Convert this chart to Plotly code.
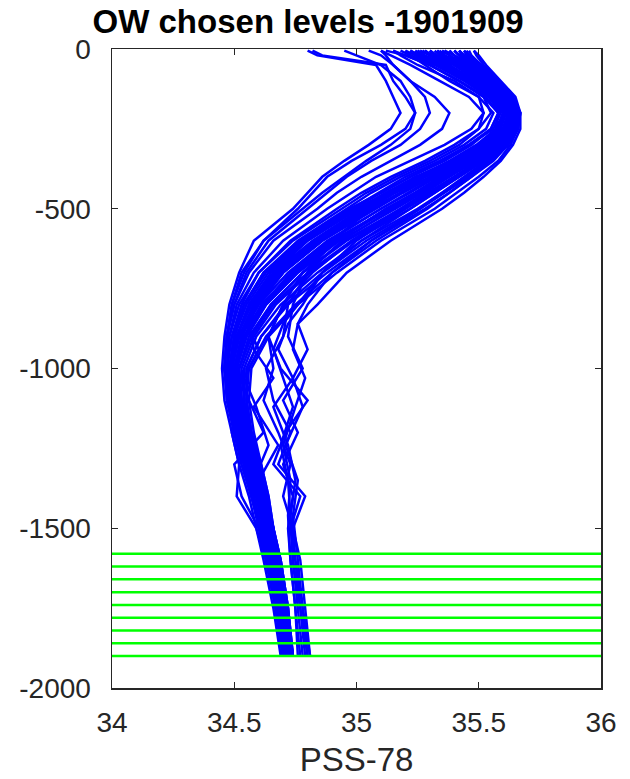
import plotly.graph_objects as go

# Pressure levels (dbar) of the profiles
pressure = [5, 20, 50, 100, 150, 200, 250, 300, 350, 400, 450, 500, 600, 700,
            800, 900, 1000, 1100, 1200, 1300, 1400, 1500, 1600, 1750, 1900]
pressure_alt = [5, 20, 50, 100, 150, 200, 250, 300, 350, 400, 450, 500, 600, 700,
                800, 860, 940, 1030, 1120, 1240, 1350, 1460, 1600, 1750, 1900]

# Salinity profiles (PSS-78), one list per profile
sal_a01 = [34.80, 34.84, 35.08, 35.12, 35.15, 35.18, 35.14, 35.05, 34.95, 34.86, 34.80, 34.74, 34.58, 34.52, 34.48, 34.46, 34.45, 34.46, 34.49, 34.52, 34.56, 34.59, 34.62, 34.66, 34.69]
sal_a02 = [34.82, 34.86, 35.12, 35.15, 35.20, 35.24, 35.22, 35.14, 35.04, 34.95, 34.86, 34.78, 34.62, 34.54, 34.49, 34.47, 34.46, 34.47, 34.50, 34.53, 34.57, 34.60, 34.63, 34.67, 34.70]
sal_a03 = [35.10, 35.12, 35.15, 35.22, 35.32, 35.38, 35.35, 35.26, 35.14, 35.02, 34.92, 34.84, 34.66, 34.56, 34.50, 34.47, 34.46, 34.48, 34.51, 34.54, 34.58, 34.61, 34.63, 34.67, 34.70]
sal_a04 = [35.20, 35.22, 35.28, 35.38, 35.50, 35.52, 35.47, 35.36, 35.22, 35.08, 34.98, 34.88, 34.70, 34.58, 34.51, 34.48, 34.47, 34.48, 34.51, 34.55, 34.58, 34.61, 34.64, 34.68, 34.71]
sal_a05 = [35.25, 35.26, 35.30, 35.42, 35.52, 35.55, 35.50, 35.40, 35.28, 35.14, 35.02, 34.92, 34.73, 34.60, 34.53, 34.49, 34.47, 34.49, 34.52, 34.55, 34.59, 34.62, 34.64, 34.68, 34.71]
sal_a06 = [35.15, 35.18, 35.25, 35.40, 35.50, 35.56, 35.53, 35.44, 35.32, 35.18, 35.06, 34.96, 34.76, 34.62, 34.54, 34.50, 34.48, 34.49, 34.52, 34.56, 34.59, 34.62, 34.65, 34.68, 34.71]
sal_a07 = [35.30, 35.32, 35.36, 35.45, 35.55, 35.58, 35.55, 35.47, 35.36, 35.22, 35.10, 34.99, 34.79, 34.64, 34.55, 34.50, 34.48, 34.50, 34.53, 34.56, 34.60, 34.63, 34.65, 34.69, 34.72]
sal_a08 = [35.28, 35.30, 35.38, 35.48, 35.56, 35.60, 35.57, 35.49, 35.38, 35.25, 35.13, 35.02, 34.82, 34.66, 34.56, 34.51, 34.49, 34.50, 34.53, 34.57, 34.60, 34.63, 34.66, 34.69, 34.72]
sal_a09 = [35.35, 35.36, 35.40, 35.50, 35.58, 35.60, 35.58, 35.51, 35.41, 35.28, 35.16, 35.05, 34.84, 34.68, 34.58, 34.52, 34.49, 34.51, 34.54, 34.57, 34.60, 34.63, 34.66, 34.69, 34.72]
sal_a10 = [35.22, 35.25, 35.35, 35.46, 35.56, 35.62, 35.60, 35.53, 35.43, 35.31, 35.19, 35.08, 34.86, 34.70, 34.59, 34.53, 34.50, 34.51, 34.54, 34.57, 34.61, 34.64, 34.66, 34.70, 34.72]
sal_a11 = [35.38, 35.40, 35.44, 35.52, 35.60, 35.62, 35.61, 35.55, 35.45, 35.33, 35.22, 35.10, 34.88, 34.72, 34.60, 34.53, 34.50, 34.52, 34.55, 34.58, 34.61, 34.64, 34.67, 34.70, 34.73]
sal_a12 = [35.32, 35.34, 35.42, 35.52, 35.60, 35.63, 35.62, 35.56, 35.47, 35.36, 35.25, 35.13, 34.90, 34.74, 34.62, 34.54, 34.51, 34.52, 34.55, 34.58, 34.61, 34.64, 34.67, 34.70, 34.73]
sal_a13 = [35.40, 35.42, 35.46, 35.54, 35.62, 35.64, 35.62, 35.57, 35.49, 35.38, 35.27, 35.16, 34.93, 34.76, 34.63, 34.55, 34.51, 34.53, 34.56, 34.59, 34.62, 34.65, 34.67, 34.70, 34.73]
sal_a14 = [35.26, 35.30, 35.40, 35.52, 35.60, 35.64, 35.63, 35.58, 35.50, 35.40, 35.30, 35.19, 34.96, 34.78, 34.65, 34.56, 34.52, 34.53, 34.56, 34.59, 34.62, 34.65, 34.68, 34.71, 34.73]
sal_a15 = [35.42, 35.44, 35.48, 35.56, 35.62, 35.65, 35.64, 35.59, 35.52, 35.42, 35.32, 35.22, 34.99, 34.81, 34.67, 34.58, 34.53, 34.54, 34.56, 34.60, 34.63, 34.65, 34.68, 34.71, 34.74]
sal_a16 = [35.45, 35.46, 35.50, 35.57, 35.63, 35.66, 35.65, 35.61, 35.54, 35.45, 35.35, 35.25, 35.02, 34.84, 34.69, 34.59, 34.54, 34.54, 34.57, 34.60, 34.63, 34.66, 34.68, 34.71, 34.74]
sal_a17 = [35.36, 35.40, 35.47, 35.56, 35.63, 35.66, 35.66, 35.62, 35.56, 35.47, 35.38, 35.28, 35.06, 34.88, 34.72, 34.61, 34.55, 34.55, 34.57, 34.60, 34.63, 34.66, 34.69, 34.72, 34.74]
sal_a18 = [35.48, 35.49, 35.52, 35.58, 35.64, 35.67, 35.66, 35.63, 35.58, 35.50, 35.41, 35.32, 35.10, 34.92, 34.76, 34.64, 34.57, 34.56, 34.58, 34.61, 34.64, 34.66, 34.69, 34.72, 34.74]
sal_a19 = [35.12, 35.20, 35.30, 35.42, 35.52, 35.58, 35.57, 35.50, 35.40, 35.28, 35.18, 35.07, 34.86, 34.70, 34.59, 34.52, 34.49, 34.50, 34.53, 34.56, 34.60, 34.63, 34.66, 34.69, 34.72]
sal_a20 = [35.18, 35.22, 35.32, 35.44, 35.54, 35.59, 35.56, 35.46, 35.34, 35.20, 35.09, 34.98, 34.78, 34.63, 34.54, 34.49, 34.47, 34.48, 34.51, 34.55, 34.59, 34.62, 34.65, 34.68, 34.71]
sal_c01 = [35.24, 35.27, 35.34, 35.46, 35.55, 35.60, 35.58, 35.50, 35.39, 35.26, 35.14, 35.03, 34.83, 34.68, 34.58, 34.53, 34.51, 34.56, 34.62, 34.50, 34.53, 34.60, 34.64, 34.68, 34.71]
sal_c02 = [35.34, 35.36, 35.42, 35.52, 35.60, 35.63, 35.61, 35.54, 35.44, 35.32, 35.21, 35.10, 34.89, 34.73, 34.62, 34.56, 34.58, 34.66, 34.58, 34.68, 34.60, 34.65, 34.66, 34.69, 34.72]
sal_n01 = [34.95, 35.00, 35.10, 35.18, 35.22, 35.24, 35.20, 35.10, 34.98, 34.88, 34.82, 34.76, 34.62, 34.53, 34.49, 34.47, 34.46, 34.47, 34.50, 34.53, 34.57, 34.61, 34.63, 34.67, 34.70]
sal_n02 = [35.05, 35.10, 35.15, 35.22, 35.28, 35.30, 35.26, 35.18, 35.06, 34.96, 34.88, 34.80, 34.64, 34.55, 34.50, 34.47, 34.46, 34.48, 34.50, 34.54, 34.57, 34.61, 34.64, 34.67, 34.70]
sal_n03 = [35.38, 35.40, 35.45, 35.53, 35.60, 35.63, 35.60, 35.52, 35.40, 35.26, 35.12, 35.00, 34.80, 34.66, 34.57, 34.51, 34.48, 34.49, 34.52, 34.56, 34.60, 34.63, 34.65, 34.69, 34.72]
sal_n04 = [35.30, 35.33, 35.40, 35.50, 35.59, 35.62, 35.60, 35.54, 35.45, 35.34, 35.24, 35.12, 34.92, 34.75, 34.62, 34.54, 34.50, 34.51, 34.54, 34.58, 34.61, 34.64, 34.67, 34.70, 34.73]
sal_n05 = [35.42, 35.43, 35.47, 35.55, 35.62, 35.65, 35.63, 35.57, 35.48, 35.37, 35.26, 35.14, 34.91, 34.74, 34.61, 34.54, 34.50, 34.52, 34.55, 34.58, 34.62, 34.65, 34.67, 34.70, 34.73]
sal_n06 = [35.20, 35.24, 35.33, 35.45, 35.55, 35.60, 35.58, 35.50, 35.40, 35.27, 35.15, 35.04, 34.83, 34.67, 34.57, 34.51, 34.48, 34.50, 34.53, 34.57, 34.60, 34.63, 34.66, 34.69, 34.72]
sal_n07 = [35.48, 35.50, 35.53, 35.59, 35.65, 35.67, 35.66, 35.62, 35.55, 35.46, 35.36, 35.26, 35.04, 34.86, 34.71, 34.61, 34.55, 34.55, 34.57, 34.61, 34.64, 34.66, 34.69, 34.72, 34.74]
sal_n08 = [35.15, 35.20, 35.30, 35.42, 35.53, 35.58, 35.55, 35.46, 35.35, 35.22, 35.10, 34.97, 34.77, 34.62, 34.54, 34.50, 34.48, 34.49, 34.52, 34.56, 34.60, 34.63, 34.65, 34.69, 34.71]
sal_n09 = [35.36, 35.38, 35.43, 35.52, 35.60, 35.64, 35.63, 35.58, 35.50, 35.41, 35.31, 35.20, 34.98, 34.80, 34.66, 34.57, 34.52, 34.53, 34.56, 34.59, 34.62, 34.65, 34.68, 34.71, 34.74]
sal_n10 = [35.28, 35.31, 35.38, 35.49, 35.58, 35.61, 35.58, 35.50, 35.39, 35.24, 35.12, 35.01, 34.80, 34.65, 34.56, 34.51, 34.49, 34.50, 34.53, 34.56, 34.60, 34.63, 34.66, 34.69, 34.72]
sal_n13 = [35.27, 35.30, 35.37, 35.48, 35.57, 35.61, 35.59, 35.51, 35.40, 35.27, 35.15, 35.04, 34.84, 34.70, 34.60, 34.55, 34.60, 34.54, 34.59, 34.64, 34.58, 34.62, 34.65, 34.68, 34.71]
sal_n14 = [35.10, 35.14, 35.22, 35.34, 35.46, 35.52, 35.50, 35.42, 35.30, 35.16, 35.04, 34.94, 34.74, 34.60, 34.52, 34.48, 34.47, 34.48, 34.51, 34.54, 34.58, 34.61, 34.64, 34.67, 34.70]
sal_n15 = [35.44, 35.46, 35.50, 35.57, 35.63, 35.66, 35.65, 35.61, 35.55, 35.47, 35.38, 35.29, 35.08, 34.90, 34.75, 34.63, 34.56, 34.55, 34.57, 34.60, 34.63, 34.66, 34.68, 34.71, 34.74]
sal_n16 = [35.33, 35.35, 35.41, 35.51, 35.59, 35.63, 35.61, 35.55, 35.46, 35.35, 35.24, 35.13, 34.92, 34.76, 34.63, 34.55, 34.51, 34.52, 34.55, 34.58, 34.62, 34.64, 34.67, 34.70, 34.73]
sal_n17 = [35.22, 35.26, 35.35, 35.47, 35.57, 35.61, 35.59, 35.52, 35.42, 35.30, 35.18, 35.06, 34.85, 34.69, 34.58, 34.52, 34.49, 34.51, 34.49, 34.52, 34.51, 34.59, 34.63, 34.67, 34.70]
sal_n18 = [35.40, 35.42, 35.47, 35.55, 35.62, 35.65, 35.64, 35.59, 35.51, 35.40, 35.29, 35.18, 34.95, 34.78, 34.65, 34.57, 34.52, 34.53, 34.56, 34.59, 34.62, 34.65, 34.68, 34.71, 34.73]
sal_b01 = [35.30, 35.32, 35.40, 35.50, 35.58, 35.62, 35.60, 35.52, 35.42, 35.30, 35.18, 35.06, 34.90, 34.80, 34.74, 34.72, 34.78, 34.70, 34.76, 34.70, 34.74, 34.72, 34.73, 34.75, 34.77]
sal_b02 = [35.44, 35.45, 35.50, 35.57, 35.64, 35.66, 35.64, 35.58, 35.50, 35.40, 35.30, 35.20, 35.00, 34.86, 34.78, 34.72, 34.68, 34.74, 34.66, 34.72, 34.75, 34.73, 34.74, 34.77, 34.79]
sal_b03 = [35.25, 35.28, 35.36, 35.48, 35.58, 35.63, 35.62, 35.56, 35.48, 35.38, 35.28, 35.18, 34.98, 34.82, 34.70, 34.64, 34.66, 34.62, 34.68, 34.73, 34.70, 34.74, 34.75, 34.78, 34.80]
sal_b04 = [35.40, 35.42, 35.46, 35.54, 35.62, 35.65, 35.64, 35.60, 35.53, 35.44, 35.35, 35.26, 35.06, 34.90, 34.80, 34.76, 34.80, 34.74, 34.78, 34.71, 34.76, 34.74, 34.76, 34.78, 34.81]
sal_b05 = [35.33, 35.36, 35.44, 35.53, 35.61, 35.65, 35.63, 35.57, 35.48, 35.37, 35.26, 35.15, 34.94, 34.80, 34.72, 34.70, 34.63, 34.66, 34.73, 34.68, 34.79, 34.74, 34.77, 34.79, 34.81]
sal_b06 = [35.46, 35.47, 35.51, 35.58, 35.64, 35.67, 35.67, 35.64, 35.59, 35.52, 35.44, 35.35, 35.14, 34.96, 34.84, 34.76, 34.74, 34.79, 34.75, 34.70, 34.73, 34.72, 34.73, 34.75, 34.76]
sal_b07 = [35.35, 35.38, 35.45, 35.54, 35.61, 35.64, 35.62, 35.55, 35.46, 35.35, 35.24, 35.12, 34.92, 34.78, 34.70, 34.64, 34.69, 34.80, 34.71, 34.66, 34.77, 34.73, 34.75, 34.77, 34.80]
sal_b08 = [35.42, 35.44, 35.49, 35.56, 35.63, 35.66, 35.65, 35.60, 35.52, 35.42, 35.32, 35.22, 35.02, 34.86, 34.76, 34.70, 34.66, 34.70, 34.74, 34.69, 34.72, 34.73, 34.74, 34.76, 34.78]

# (pressure levels, salinity) for every profile
profiles = [(pressure, sal_a01), (pressure, sal_a02), (pressure, sal_a03),
            (pressure, sal_a04), (pressure, sal_a05), (pressure, sal_a06),
            (pressure, sal_a07), (pressure, sal_a08), (pressure, sal_a09),
            (pressure, sal_a10), (pressure, sal_a11), (pressure, sal_a12),
            (pressure, sal_a13), (pressure, sal_a14), (pressure, sal_a15),
            (pressure, sal_a16), (pressure, sal_a17), (pressure, sal_a18),
            (pressure, sal_a19), (pressure, sal_a20), (pressure, sal_c01),
            (pressure_alt, sal_c02), (pressure, sal_n01), (pressure, sal_n02),
            (pressure, sal_n03), (pressure, sal_n04), (pressure, sal_n05),
            (pressure, sal_n06), (pressure, sal_n07), (pressure, sal_n08),
            (pressure, sal_n09), (pressure, sal_n10), (pressure_alt, sal_n13),
            (pressure, sal_n14), (pressure, sal_n15), (pressure, sal_n16),
            (pressure, sal_n17), (pressure, sal_n18), (pressure, sal_b01),
            (pressure_alt, sal_b02), (pressure, sal_b03), (pressure_alt, sal_b04),
            (pressure, sal_b05), (pressure_alt, sal_b06), (pressure, sal_b07),
            (pressure_alt, sal_b08)]

# Chosen OW levels (dbar)
chosen_levels = [1580, 1620, 1660, 1700, 1740, 1780, 1820, 1860, 1900]
x_limits = [34, 36]

x_tickvals = [34, 34.5, 35, 35.5, 36]
x_ticktext = ["34", "34.5", "35", "35.5", "36"]
y_tickvals = [0, -500, -1000, -1500, -2000]
y_ticktext = ["0", "-500", "-1000", "-1500", "-2000"]

fig = go.Figure()
for pres, s in profiles:
    fig.add_trace(go.Scatter(x=s, y=[-p for p in pres], mode="lines",
                             line=dict(color="#0000FF", width=2.5),
                             showlegend=False, hoverinfo="skip"))
for lev in chosen_levels:
    fig.add_trace(go.Scatter(x=x_limits, y=[-lev, -lev], mode="lines",
                             line=dict(color="#00FF00", width=2.5),
                             showlegend=False, hoverinfo="skip"))

FONT = "Liberation Sans, Arial, sans-serif"
axis_common = dict(showgrid=False, zeroline=False, showline=True, mirror="ticks",
                   linecolor="#262626", linewidth=1.5, ticks="inside", ticklen=6,
                   tickwidth=1.2, tickcolor="#262626",
                   tickfont=dict(family=FONT, size=28, color="#262626"))

fig.update_xaxes(range=x_limits, tickvals=x_tickvals, ticktext=x_ticktext,
                 ticklabelstandoff=9,
                 title=dict(text="PSS-78", standoff=11,
                            font=dict(family=FONT, size=33, color="#262626")),
                 **axis_common)
fig.update_yaxes(range=[-2000, 0], tickvals=y_tickvals, ticktext=y_ticktext,
                 ticklabelstandoff=14, **axis_common)

fig.update_layout(
    width=630, height=779,
    margin=dict(l=112, r=29, t=49, b=91, autoexpand=False),
    paper_bgcolor="white", plot_bgcolor="white",
    hovermode=False,
    title=dict(text="<b>OW chosen levels -1901909</b>", xref="container", x=0.489,
               xanchor="center", yref="container", y=0.958, yanchor="bottom",
               font=dict(family=FONT, size=33, color="black")),
)

# remove the default page margin so the 630x779 figure fills the window
fig.write_html("out.html",
               config={"displayModeBar": False, "staticPlot": True},
               post_script="document.body.style.margin='0';"
                           "document.body.style.overflow='hidden';")
